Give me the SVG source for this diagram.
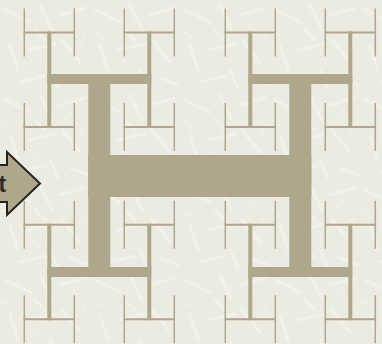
<svg xmlns="http://www.w3.org/2000/svg" width="382" height="344" viewBox="0 0 382 344">
  <style>
    .t0{stroke-width:42}
    .t1{stroke-width:22}
    .t2{stroke-width:10}
    .t3{stroke-width:4}
    .t4{stroke-width:2}
    .t5{stroke-width:1.5}
    .tree path{fill:none;stroke:#afa78b;stroke-linecap:butt}
    .lbl{font-family:"Liberation Sans",Arial,sans-serif;font-weight:bold;font-size:23px;fill:#2a2a2a}
  </style>
  <defs>
    <pattern id="tex" width="90" height="90" patternUnits="userSpaceOnUse">
      <rect width="90" height="90" fill="#ebebe1"/>
      <g stroke="#f6f6ee" stroke-width="3" stroke-linecap="round" opacity="0.55">
        <path d="M5 10 L30 22"/>
        <path d="M40 5 L52 30"/>
        <path d="M60 15 L85 8"/>
        <path d="M10 45 L18 70"/>
        <path d="M28 50 L55 44"/>
        <path d="M62 40 L80 62"/>
        <path d="M20 82 L45 76"/>
        <path d="M50 70 L58 88"/>
        <path d="M70 78 L88 85"/>
        <path d="M35 30 L45 40"/>
      </g>
      <g stroke="#f4f4ea" stroke-width="2" stroke-linecap="round" opacity="0.5">
        <path d="M2 30 L12 38"/>
        <path d="M66 28 L74 20"/>
        <path d="M32 60 L40 68"/>
        <path d="M80 45 L86 35"/>
      </g>
    </pattern>
  </defs>
  <rect id="background" width="382" height="344" fill="url(#tex)"/>
  <g id="htree" class="tree">
    <path class="t0" d="M88.3 176 H311.3"/>
    <path class="t1" d="M99.3 74 V277 M300.3 74 V277"/>
    <path class="t2" d="M47.3 79 H151.3 M248.3 79 H352.3 M47.3 272 H151.3 M248.3 272 H352.3"/>
    <path class="t3" d="M49.3 31.5 V128 M149.3 31.5 V128 M250.3 31.5 V128 M350.3 31.5 V128 M49.3 223.75 V320.25 M149.3 223.75 V320.25 M250.3 223.75 V320.25 M350.3 223.75 V320.25"/>
    <path class="t4" d="M23.5 32.5 H75.1 M123.5 32.5 H175.1 M224.5 32.5 H276.1 M324.5 32.5 H376.1 M23.5 127 H75.1 M123.5 127 H175.1 M224.5 127 H276.1 M324.5 127 H376.1 M23.5 224.75 H75.1 M123.5 224.75 H175.1 M224.5 224.75 H276.1 M324.5 224.75 H376.1 M23.5 319.25 H75.1 M123.5 319.25 H175.1 M224.5 319.25 H276.1 M324.5 319.25 H376.1"/>
    <path class="t5" d="M24.3 8.5 V56.5 M74.3 8.5 V56.5 M124.3 8.5 V56.5 M174.3 8.5 V56.5 M225.3 8.5 V56.5 M275.3 8.5 V56.5 M325.3 8.5 V56.5 M375.3 8.5 V56.5 M24.3 103 V151 M74.3 103 V151 M124.3 103 V151 M174.3 103 V151 M225.3 103 V151 M275.3 103 V151 M325.3 103 V151 M375.3 103 V151 M24.3 200.75 V248.75 M74.3 200.75 V248.75 M124.3 200.75 V248.75 M174.3 200.75 V248.75 M225.3 200.75 V248.75 M275.3 200.75 V248.75 M325.3 200.75 V248.75 M375.3 200.75 V248.75 M24.3 295.25 V343.25 M74.3 295.25 V343.25 M124.3 295.25 V343.25 M174.3 295.25 V343.25 M225.3 295.25 V343.25 M275.3 295.25 V343.25 M325.3 295.25 V343.25 M375.3 295.25 V343.25"/>
  </g>
  <g id="start-arrow">
    <path d="M-3 165 H7 V152 L40 183.5 L7 215 V202 H-3 Z" fill="#afa78b" stroke="#222" stroke-width="2" stroke-linejoin="miter"/>
    <text class="lbl" x="-1.5" y="192">t</text>
  </g>
</svg>
